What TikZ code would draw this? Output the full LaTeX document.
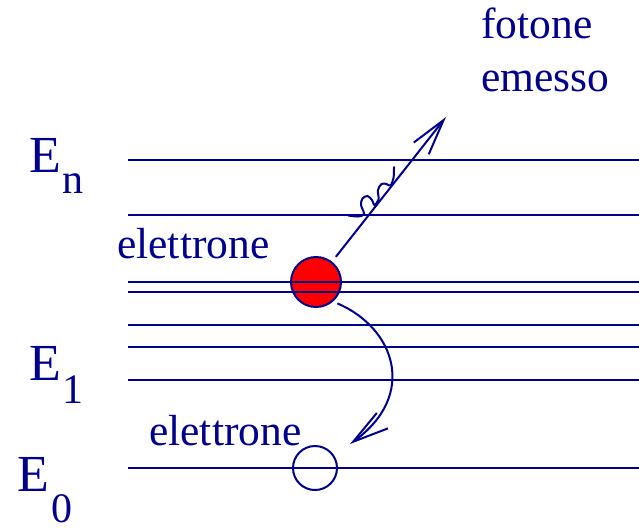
\documentclass[tikz,border=0pt]{standalone}
\usepackage{fontspec}
\setmainfont{Liberation Serif}
\usetikzlibrary{arrows.meta}
\definecolor{nv}{RGB}{0,0,140}
\tikzset{
  lvl/.style={draw=nv, line width=2pt},
  lbl/.style={text=nv, anchor=base west, inner sep=0pt, font=\fontsize{43.5}{50}\selectfont},
  bigE/.style={text=nv, anchor=base west, inner sep=0pt, font=\fontsize{52}{60}\selectfont},
  subE/.style={text=nv, anchor=base west, inner sep=0pt, font=\fontsize{42}{50}\selectfont},
  arr/.style={draw=nv, line width=2pt, -{Straight Barb[length=36pt, width=19pt, line width=2pt]}},
}
\begin{document}
\begin{tikzpicture}[x=1pt, y=-1pt]
\useasboundingbox (0,0) rectangle (639,528);
% electrons
\node[circle, draw=nv, fill=red, line width=2pt, minimum size=50pt, inner sep=0pt] (e1) at (316,282) {};
\node[circle, draw=nv, line width=2pt, minimum size=44pt, inner sep=0pt] (e0) at (315,468) {};
% levels
\foreach \y in {160,215,282,292,325,347,380,468} {
  \draw[lvl] (128,\y) -- (639,\y);
}
% labels
\node[bigE] (En) at (29,172) {E};
\node[subE] (n) at (62,193) {n};
\node[bigE] (E1) at (29,380) {E};
\node[subE] (s1) at (62,403) {1};
\node[bigE] (E0) at (17,491) {E};
\node[subE] (s0) at (51,522) {0};
\node[lbl] (el1) at (117,258) {elettrone};
\node[lbl] (el0) at (149,445) {elettrone};
\node[lbl] (fo) at (481,38) {fotone};
\node[lbl] (em) at (481,91) {emesso};
% photon arrow
\coordinate (ph) at (446,117);
\draw[arr, shorten <=6pt] (e1) -- (ph);
% squiggle
\draw[nv, line width=2pt, line cap=round] plot[smooth, tension=0.55] coordinates {
  (348.5,215.5) (358,216.5) (364,214) (361,205) (362.5,198.5) (367.5,196) (372,200) (374.5,205) (378.5,199.5) (378,190) (381.5,184) (386.5,184) (390.5,185.5) (393.5,178) (394,167)};
% decay arrow
\coordinate (tb) at (350,444);
\draw[arr] ([shift={(3pt,-3pt)}]e1.-45) .. controls (395,328) and (418,395) .. (tb);
\end{tikzpicture}
\end{document}
